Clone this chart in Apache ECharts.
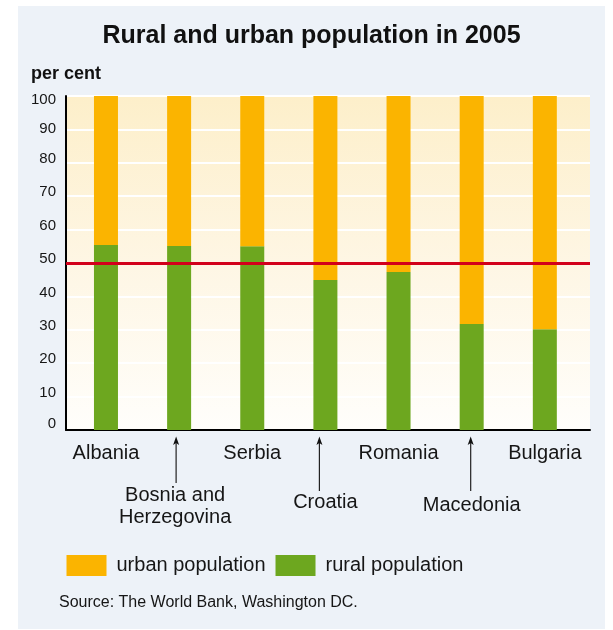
<!DOCTYPE html>
<html>
<head>
<meta charset="utf-8">
<script src="https://cdn.jsdelivr.net/npm/echarts@6/dist/echarts.min.js"></script>
<style>
html,body{margin:0;padding:0;background:#ffffff;}
#main{width:613px;height:630px;}
</style>
</head>
<body>
<div id="main"></div>
<script>
// ---- data ----
const categories = ['Albania', 'Bosnia and Herzegovina', 'Serbia', 'Croatia', 'Romania', 'Macedonia', 'Bulgaria'];
const ruralValues = [55.4, 55.1, 55.0, 44.9, 47.3, 31.7, 30.2];
const urbanValues = [44.6, 44.9, 45.0, 55.1, 52.7, 68.3, 69.8];
const seriesNames = ['urban population', 'rural population'];
const yMin = 0, yMax = 100, yInterval = 10;
const referenceValue = 50;
const titleText = 'Rural and urban population in 2005';
const unitText = 'per cent';
const sourceText = 'Source: The World Bank, Washington DC.';

const FONT = '"Liberation Sans", Arial, Helvetica, sans-serif';
const TXT = '#161616';

const chart = echarts.init(document.getElementById('main'), null, {renderer: 'canvas'});

function labelFormatter(value, index) {
  const multi = value.length > 12;
  let lines = multi ? [value.slice(0, value.lastIndexOf(' ')), value.slice(value.lastIndexOf(' ') + 1)] : [value];
  const st = multi ? 'nb' : 'n';
  let body = lines.map(l => '{' + st + '|' + l + '}').join('\n');
  if (index % 2 === 1) return '{s' + index + '| }\n' + body;
  return body;
}

function yLabelFormatter(v) {
  let st = 'd';
  if (v === 100) st = 't';
  else if (v === 90) st = 'k';
  else if (v === 0) st = 'z';
  return '{' + st + '|' + v + '}';
}

const yRichBase = {fontSize: 15, fontFamily: FONT, color: TXT};

const option = {
  backgroundColor: '#ffffff',
  animation: false,
  graphic: [
    {id: 'panel', type: 'rect', z: -10, silent: true, shape: {x: 18, y: 6, width: 587, height: 623}, style: {fill: '#edf2f8'}},
    {id: 'title', type: 'text', x: 311.5, y: 36.5, style: {text: titleText, font: 'bold 25px ' + FONT, fill: '#111', textAlign: 'center', textVerticalAlign: 'middle'}},
    {id: 'unit', type: 'text', x: 31, y: 74, style: {text: unitText, font: 'bold 18px ' + FONT, fill: '#111', textAlign: 'left', textVerticalAlign: 'middle'}},
    {id: 'source', type: 'text', x: 59, y: 602.5, style: {text: sourceText, font: '16px ' + FONT, fill: TXT, textAlign: 'left', textVerticalAlign: 'middle'}}
  ],
  legend: {
    data: seriesNames,
    left: 61.5, top: 550,
    orient: 'horizontal',
    icon: 'rect',
    itemWidth: 40, itemHeight: 21, itemGap: 10,
    textStyle: {fontSize: 20, fontFamily: FONT, color: TXT, padding: [0, 0, 0, 5]},
    selectedMode: false
  },
  grid: [
    {left: 66, right: 23, top: 96, bottom: 200, show: true, borderWidth: 0,
     backgroundColor: new echarts.graphic.LinearGradient(0, 0, 0, 1, [
       {offset: 0, color: '#fdefca'}, {offset: 0.5, color: '#fef6e4'}, {offset: 1, color: '#fffefb'}
     ])},
    {left: 69.4, right: 31.6, top: 96, bottom: 200}
  ],
  xAxis: [
    {gridIndex: 0, type: 'value', min: 0, max: 1, axisLine: {show: true, lineStyle: {color: '#000', width: 2}},
     axisTick: {show: false}, axisLabel: {show: false}, splitLine: {show: false}},
    {gridIndex: 1, type: 'category', data: categories, axisLine: {show: false}, axisTick: {show: false},
     axisLabel: {
       interval: 0, margin: 12.3, formatter: labelFormatter,
       rich: {
         n: {fontSize: 20, lineHeight: 22, fontFamily: FONT, color: TXT, align: 'center'},
         nb: {fontSize: 20, lineHeight: 22, fontFamily: FONT, color: TXT, align: 'center', padding: [0, 8, 0, 0]},
         s1: {fontSize: 2, lineHeight: 41.7},
         s3: {fontSize: 2, lineHeight: 48.7},
         s5: {fontSize: 2, lineHeight: 52}
       }
     }}
  ],
  yAxis: [
    {gridIndex: 0, type: 'value', min: yMin, max: yMax, interval: yInterval,
     axisLine: {show: true, lineStyle: {color: '#000', width: 2}},
     axisTick: {show: false},
     axisLabel: {margin: 10, formatter: yLabelFormatter,
       rich: {
         d: Object.assign({padding: [0, 0, 8, 0]}, yRichBase),
         t: Object.assign({padding: [8, 0, 0, 0]}, yRichBase),
         k: Object.assign({padding: [0, 0, 2, 0]}, yRichBase),
         z: Object.assign({padding: [0, 0, 13, 0]}, yRichBase)
       }},
     splitLine: {show: true, lineStyle: {color: '#ffffff', width: 2}}},
    {gridIndex: 1, type: 'value', min: yMin, max: yMax, show: false}
  ],
  series: [
    {
      name: 'reference', type: 'line', xAxisIndex: 0, yAxisIndex: 0, z: 1,
      data: [[0, referenceValue]], showSymbol: false, symbolSize: 0, lineStyle: {opacity: 0}, silent: true,
      markLine: {silent: true, symbol: 'none', label: {show: false},
        lineStyle: {color: '#d2001b', width: 3, type: 'solid'},
        data: [{yAxis: referenceValue}]}
    },
    {name: seriesNames[1], type: 'bar', xAxisIndex: 1, yAxisIndex: 1, stack: 'total', barWidth: 24, z: 2,
     itemStyle: {color: '#6da71f'}, data: ruralValues},
    {name: seriesNames[0], type: 'bar', xAxisIndex: 1, yAxisIndex: 1, stack: 'total', barWidth: 24, z: 2,
     itemStyle: {color: '#fbb400'}, data: urbanValues}
  ]
};

chart.setOption(option);

// arrows pointing to staggered labels, placed through the axis scale
const arrowBottoms = {1: 53, 3: 61, 5: 61};
const arrowShift = {1: -3, 3: -6, 5: -1};
const base = chart.convertToPixel({yAxisIndex: 1}, 0);
const arrows = [];
categories.forEach((c, i) => {
  if (i % 2 !== 1) return;
  const x = chart.convertToPixel({xAxisIndex: 1}, c) + arrowShift[i];
  arrows.push({id: 'al' + i, type: 'line', silent: true,
    shape: {x1: x, y1: base + 10, x2: x, y2: base + arrowBottoms[i]},
    style: {stroke: '#222', lineWidth: 1.2}});
  arrows.push({id: 'ah' + i, type: 'polygon', silent: true,
    shape: {points: [[x, base + 6.5], [x - 3, base + 15], [x, base + 13], [x + 3, base + 15]]},
    style: {fill: '#111'}});
});
chart.setOption({graphic: arrows});
</script>
</body>
</html>
